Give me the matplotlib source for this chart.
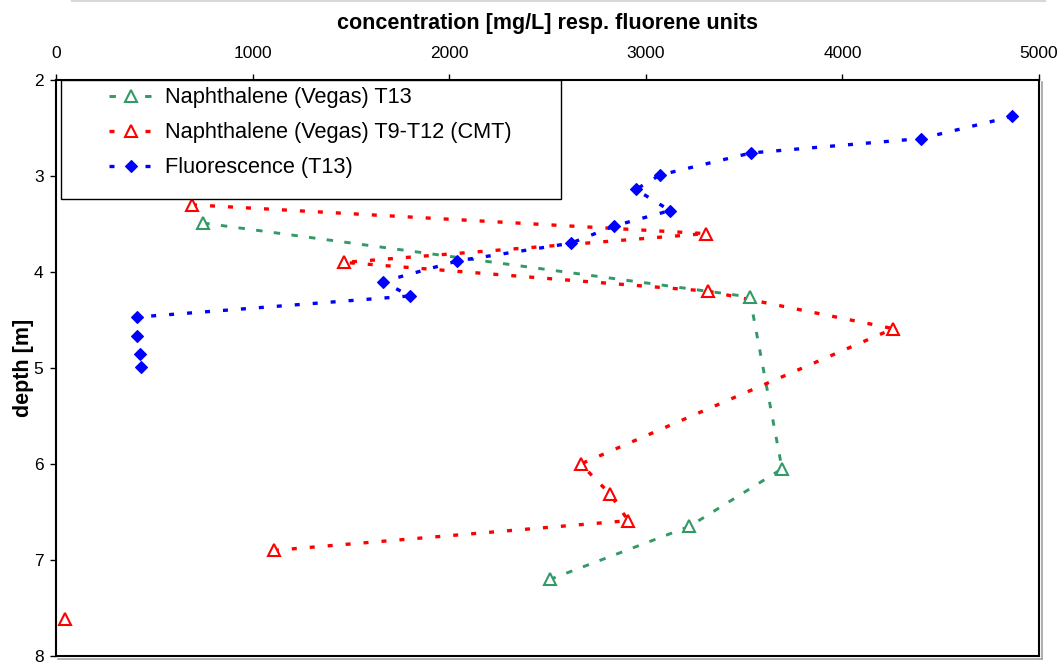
import matplotlib
matplotlib.use('Agg')
import matplotlib.pyplot as plt
from matplotlib.patches import Rectangle
from matplotlib.lines import Line2D

plt.rcParams['font.family'] = ['Liberation Sans', 'DejaVu Sans']

# Naphthalene (Vegas) at T13
naph_t13_conc = [749, 3529, 3693, 3222, 2515]
naph_t13_depth = [3.49, 4.26, 6.05, 6.65, 7.20]

# Naphthalene (Vegas) at T9-T12 (CMT); the deepest sample is not joined by the line
naph_cmt_conc = [692, 3304, 1467, 3318, 4259, 2669, 2817, 2911, 1108, 48]
naph_cmt_depth = [3.30, 3.60, 3.90, 4.20, 4.59, 6.00, 6.31, 6.59, 6.90, 7.61]
cmt_joined = 9

# fluorescence at T13; the lowest three readings are not joined by the line
fluo_conc = [4863, 4400, 3535, 3072, 2949, 3123, 2840, 2619, 2041, 1663, 1800,
             410, 410, 425, 433]
fluo_depth = [2.38, 2.61, 2.76, 2.99, 3.14, 3.36, 3.52, 3.70, 3.885, 4.10, 4.25,
              4.47, 4.67, 4.85, 4.99]
fluo_joined = 12

green = '#339966'
red = '#ff0000'
blue = '#0000ff'

W, H = 1062, 662
fig = plt.figure(figsize=(W / 100, H / 100), dpi=100)
ax = fig.add_axes([56 / W, 1 - 656 / H, (1039 - 56) / W, (656 - 80) / H])

dash_rb = (0, (1.5, 3.9))
dash_g = (0, (2.2, 3.9))

# lines
ax.plot(naph_t13_conc, naph_t13_depth, color=green, lw=2.1, linestyle=dash_g, zorder=2)
ax.plot(naph_cmt_conc[:cmt_joined], naph_cmt_depth[:cmt_joined], color=red, lw=2.4,
        linestyle=dash_rb, zorder=2)
ax.plot(fluo_conc[:fluo_joined], fluo_depth[:fluo_joined], color=blue, lw=2.4,
        linestyle=dash_rb, zorder=2)

# markers
ax.plot(naph_t13_conc, naph_t13_depth, ls='none', marker='^', ms=8.5, mew=1.5,
        mfc='white', mec=green, zorder=3)
ax.plot(naph_cmt_conc, naph_cmt_depth, ls='none', marker='^', ms=8.5, mew=1.5,
        mfc='white', mec=red, zorder=3)
ax.plot(fluo_conc, fluo_depth, ls='none', marker='D', ms=6.2, mew=0.8,
        mfc=blue, mec=blue, zorder=3)

ax.set_xlim(0, 5000)
ax.set_ylim(8, 2)
ax.xaxis.tick_top()
ax.xaxis.set_label_position('top')
ax.set_xticks([0, 1000, 2000, 3000, 4000, 5000])
ax.set_yticks([2, 3, 4, 5, 6, 7, 8])
ax.tick_params(axis='x', direction='out', length=4, width=1, pad=10, labelsize=12.5)
ax.tick_params(axis='y', direction='out', length=4, width=1, pad=5, labelsize=12.5)
ax.set_xlabel('concentration [mg/L] resp. fluorene units', fontsize=15.5,
              fontweight='bold', labelpad=12)
ax.set_ylabel('depth [m]', fontsize=15.5, fontweight='bold', labelpad=0)
for s in ax.spines.values():
    s.set_linewidth(1.5)
    s.set_color('black')

# legend box
ax.add_patch(Rectangle((0.0051, 0.7934), 0.5086, 0.2066, transform=ax.transAxes,
                       facecolor='white', edgecolor='black', lw=1.0, zorder=4))
handles = [
    Line2D([], [], color=green, lw=2.1, linestyle=dash_g, marker='^', ms=8.5,
           mew=1.5, mfc='white', mec=green),
    Line2D([], [], color=red, lw=2.4, linestyle=dash_rb, marker='^', ms=8.5,
           mew=1.5, mfc='white', mec=red),
    Line2D([], [], color=blue, lw=2.4, linestyle=dash_rb, marker='D', ms=6.2,
           mew=0.8, mfc=blue, mec=blue),
]
labels = ['Naphthalene (Vegas) T13', 'Naphthalene (Vegas) T9-T12 (CMT)',
          'Fluorescence (T13)']
leg = ax.legend(handles, labels, loc='upper left', bbox_to_anchor=(0.0544, 0.987),
                frameon=False, borderpad=0, borderaxespad=0, fontsize=15.7,
                handlelength=1.93, handletextpad=0.6, labelspacing=0.64,
                numpoints=1)
leg.set_zorder(5)

# shadow edge along the right and bottom of the plot area
fig.add_artist(Line2D([1041.5 / W, 1041.5 / W], [1 - 658.5 / H, 1 - 82 / H],
                      color='#a0a0a0', lw=1.2))
fig.add_artist(Line2D([58 / W, 1041.5 / W], [1 - 658.5 / H, 1 - 658.5 / H],
                      color='#a0a0a0', lw=1.2))
fig.add_artist(Line2D([72 / W, 1045 / W], [1 - 0.8 / H, 1 - 0.8 / H],
                      color='#d8d8d8', lw=1.5))

fig.savefig('out.png', dpi=100)
